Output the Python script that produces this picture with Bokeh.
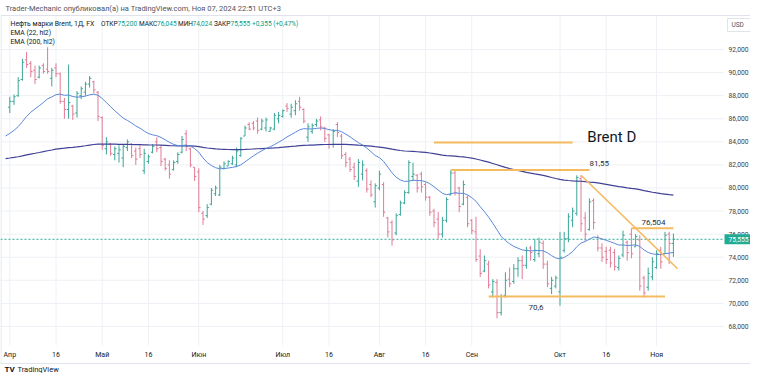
import pandas as pd
from bokeh.plotting import figure
from bokeh.models import Range1d, Label, ColumnDataSource
from bokeh.core.properties import value
from bokeh.embed import file_html
from bokeh.resources import INLINE

# ---------------- data ----------------
dates = pd.bdate_range("2024-04-01", "2024-11-07")

opens = [87.0, 87.5, 88.0, 89.4, 91.1, 90.8, 90.2, 89.6, 90.6, 90.3,
         89.5, 90.4, 89.9, 87.5, 86.8, 87.1, 86.5, 88.0, 88.3, 89.0,
         89.2, 88.3, 86.1, 83.4, 83.8, 82.9, 83.0, 82.6, 83.5, 83.8,
         83.2, 83.4, 81.5, 82.3, 83.1, 84.0, 83.5, 82.5, 82.0, 81.6,
         82.3, 83.1, 84.7, 83.4, 81.8, 81.4, 77.8, 77.6, 78.6, 79.5,
         79.4, 81.7, 81.9, 82.1, 82.0, 82.8, 84.5, 85.5, 85.6, 85.8,
         85.1, 85.2, 84.9, 85.1, 86.0, 86.2, 87.1, 86.4, 86.7, 87.5,
         86.8, 84.4, 84.9, 85.5, 85.9, 85.2, 84.6, 83.8, 85.5, 84.5,
         82.9, 82.5, 81.8, 80.6, 81.2, 81.5, 80.3, 78.8, 80.0, 80.3,
         77.4, 77.0, 76.1, 77.7, 78.7, 79.6, 81.0, 81.1, 81.2, 80.3,
         79.2, 78.0, 77.3, 76.0, 77.2, 79.4, 81.3, 80.0, 78.6, 79.2,
         77.2, 76.2, 74.1, 72.8, 73.4, 71.0, 71.8, 69.2, 70.7, 72.1,
         71.9, 73.0, 73.7, 73.3, 74.8, 73.8, 74.3, 75.2, 73.4, 71.3,
         71.5, 71.0, 74.6, 75.6, 77.2, 77.8, 80.8, 77.4, 76.4, 78.9,
         75.7, 74.8, 74.5, 74.6, 74.4, 73.1, 74.2, 75.3, 76.0, 74.9,
         75.5, 72.2, 71.4, 72.3, 73.1, 74.6, 74.3, 76.0, 75.2]
highs = [87.9, 88.1, 89.6, 91.2, 91.8, 91.0, 90.6, 90.6, 90.8, 92.2,
         90.4, 90.8, 90.0, 87.8, 90.7, 87.2, 88.4, 88.8, 89.2, 89.7,
         89.3, 88.4, 86.2, 84.4, 83.9, 83.6, 83.7, 83.8, 84.2, 83.9,
         83.5, 83.7, 83.4, 82.9, 83.8, 84.4, 83.7, 82.6, 82.4, 82.4,
         83.1, 84.5, 85.0, 83.5, 81.8, 81.7, 78.0, 78.6, 80.0, 80.2,
         82.0, 82.3, 82.4, 82.8, 83.5, 84.4, 85.4, 85.7, 85.8, 86.1,
         86.0, 86.1, 85.3, 86.5, 86.6, 86.8, 87.35, 87.3, 87.6, 87.9,
         86.9, 85.6, 85.6, 86.0, 86.2, 85.3, 84.7, 85.1, 85.7, 84.7,
         83.1, 82.7, 82.2, 82.5, 82.4, 81.7, 80.65, 80.4, 81.5, 80.5,
         77.5, 77.2, 77.8, 78.9, 79.8, 82.4, 82.2, 81.2, 81.4, 80.5,
         79.3, 78.2, 77.9, 77.5, 79.2, 81.55, 81.5, 80.1, 80.65, 79.35,
         77.3, 77.5, 74.7, 74.15, 73.7, 72.1, 72.1, 70.8, 72.7, 73.1,
         73.4, 74.0, 74.15, 74.9, 75.0, 75.6, 75.7, 75.45, 73.7, 72.3,
         72.4, 76.2, 76.2, 77.8, 78.3, 81.1, 81.1, 77.9, 79.1, 79.1,
         75.9, 75.2, 74.9, 74.9, 74.7, 74.15, 76.3, 75.45, 76.5, 76.0,
         75.9, 72.4, 73.1, 74.0, 74.6, 74.9, 76.2, 76.2, 76.045]
lows = [86.5, 87.2, 87.9, 89.3, 90.4, 89.6, 89.0, 89.5, 89.9, 89.9,
        88.8, 89.6, 87.3, 86.0, 86.0, 85.9, 86.1, 87.7, 88.0, 88.7,
        88.2, 85.8, 83.3, 82.9, 82.8, 82.4, 82.2, 81.8, 83.2, 82.6,
        82.0, 82.6, 81.2, 82.1, 83.0, 83.1, 81.9, 81.5, 80.8, 81.5,
        82.1, 83.0, 83.2, 81.8, 80.6, 77.9, 76.8, 77.4, 78.5, 79.3,
        79.3, 81.6, 81.9, 82.0, 81.8, 82.7, 84.5, 85.0, 85.0, 84.7,
        85.0, 84.9, 84.9, 85.0, 85.6, 86.1, 86.6, 86.1, 86.3, 86.7,
        85.6, 84.0, 84.7, 85.3, 85.0, 84.0, 83.4, 83.5, 84.4, 82.5,
        81.8, 81.4, 80.7, 80.1, 80.65, 79.6, 79.2, 78.3, 79.8, 77.5,
        75.7, 75.0, 75.9, 77.6, 78.6, 79.5, 80.6, 79.6, 79.6, 78.9,
        77.6, 76.6, 75.6, 75.7, 77.0, 79.35, 79.35, 77.9, 78.5, 76.6,
        76.0, 73.6, 72.3, 72.7, 71.3, 70.5, 68.7, 68.95, 70.5, 71.4,
        71.7, 72.3, 72.1, 73.0, 73.7, 73.6, 74.0, 73.0, 71.4, 70.8,
        71.3, 69.8, 74.4, 75.3, 76.6, 77.6, 76.2, 75.4, 76.3, 76.4,
        74.5, 73.6, 73.4, 73.1, 72.85, 72.85, 74.0, 73.7, 73.9, 74.9,
        71.1, 70.5, 71.1, 72.0, 73.0, 73.0, 74.3, 73.4, 74.024]
closes = [87.5, 87.9, 89.3, 90.9, 90.7, 90.1, 89.4, 90.4, 90.1, 90.1,
          90.2, 89.9, 87.5, 86.8, 87.4, 86.4, 88.2, 88.6, 89.0, 89.5,
          88.5, 86.2, 83.7, 84.0, 83.0, 83.4, 83.3, 83.6, 84.0, 82.8,
          82.5, 82.9, 83.0, 82.7, 83.6, 83.4, 82.3, 81.7, 81.2, 82.2,
          82.9, 84.2, 83.6, 82.0, 81.0, 78.3, 77.3, 78.3, 79.8, 80.0,
          81.8, 82.1, 82.3, 82.6, 83.2, 84.3, 85.2, 85.1, 85.2, 85.0,
          85.8, 85.9, 85.2, 86.3, 86.3, 86.7, 86.9, 87.0, 87.3, 87.0,
          85.8, 85.3, 85.4, 85.8, 85.3, 84.3, 83.8, 84.9, 84.8, 82.8,
          82.2, 81.6, 81.0, 82.2, 82.0, 79.9, 79.4, 80.2, 81.2, 77.9,
          76.2, 75.5, 77.6, 78.7, 79.6, 82.2, 81.2, 80.0, 80.1, 79.2,
          77.9, 77.0, 76.0, 77.2, 79.0, 81.3, 79.6, 78.4, 80.3, 76.9,
          76.3, 73.8, 72.6, 73.7, 71.6, 71.9, 69.2, 70.6, 72.0, 71.7,
          73.0, 73.7, 73.3, 74.6, 74.4, 74.6, 75.3, 73.4, 71.7, 72.0,
          72.2, 74.0, 75.6, 77.5, 78.0, 80.9, 76.9, 76.0, 78.8, 77.0,
          74.8, 74.0, 73.8, 73.5, 73.2, 73.9, 75.9, 74.4, 74.3, 75.8,
          71.5, 70.9, 72.6, 73.6, 74.3, 73.6, 75.9, 75.2, 75.555]

ema22_seed = 84.5     # EMA(22) value on the day before the first visible bar
ema200_seed = 82.55   # EMA(200) value on the day before the first visible bar

tick_dates = ["2024-04-01", "2024-04-16", "2024-05-01", "2024-05-16", "2024-06-03",
              "2024-07-01", "2024-07-16", "2024-08-01", "2024-08-16", "2024-09-02",
              "2024-10-01", "2024-10-16", "2024-11-01"]
tick_labels = ["Апр", "16", "Май", "16", "Июн", "Июл", "16", "Авг", "16", "Сен",
               "Окт", "16", "Ноя"]
price_ticks = [68, 70, 72, 74, 76, 78, 80, 82, 84, 86, 88, 90, 92]
price_tick_labels = ["68,000", "70,000", "72,000", "74,000", "76,000", "78,000", "80,000",
                     "82,000", "84,000", "86,000", "88,000", "90,000", "92,000"]

# drawings on the chart
hline_start = ["2024-08-20", "2024-08-26", "2024-10-24", "2024-09-06"]
hline_end = ["2024-10-04", "2024-10-10", "2024-11-07", "2024-11-05"]
hline_price = [83.95, 81.55, 76.504, 70.6]
trend_start_date, trend_start_price = "2024-10-08", 81.1
trend_end_price = 73.0
last_close = 75.555

# ---------------- geometry helpers (pixel <-> data) ----------------
W, H = 750, 373
BAR0, STEP = 9.3, 4.2          # x of the first bar, px per bar
P92, PPU = 49.0, 11.54         # y of price 92, px per price unit
PL, PR, PT, PB = 0, 723, 15, 345   # plotting pane


def wx(px):
    return (px - BAR0) / STEP


def wy(py):
    return 92 - (py - P92) / PPU


idx_of = {d.strftime("%Y-%m-%d"): i for i, d in enumerate(dates)}
n = len(dates)
xs = list(range(n))
hl2 = [(h + l) / 2 for h, l in zip(highs, lows)]


def ema(vals, span, seed):
    a = 2.0 / (span + 1)
    e = seed
    out = [seed]
    for v in vals:
        e = e + a * (v - e)
        out.append(e)
    return out


ema_x = [-1] + xs
ema22 = ema(hl2, 22, ema22_seed)
ema200 = ema(hl2, 200, ema200_seed)

p = figure(width=W, height=H,
           x_range=Range1d(wx(0), wx(W)), y_range=Range1d(wy(H), wy(0)),
           x_axis_location=None, y_axis_location=None,
           toolbar_location=None, output_backend="svg", min_border=0,
           background_fill_color="white", border_fill_color="white",
           outline_line_color=None)
p.xgrid.visible = False
p.ygrid.visible = False

FONT = "Roboto"
DARK = "#131722"
GRID = "#eef0f5"
BORDER = "#e0e3eb"

# grid
tick_idx = [idx_of[d] for d in tick_dates]
p.segment(x0=tick_idx, x1=tick_idx, y0=[wy(PB)] * len(tick_idx), y1=[wy(PT)] * len(tick_idx),
          color=GRID, line_width=1)
p.segment(x0=[wx(PL)] * len(price_ticks), x1=[wx(PR)] * len(price_ticks),
          y0=price_ticks, y1=price_ticks, color=GRID, line_width=1)

# pane border
p.segment(x0=[wx(0), wx(0), wx(0.5)], x1=[wx(W), wx(W), wx(0.5)],
          y0=[wy(PT), wy(363), wy(PT)], y1=[wy(PT), wy(363), wy(363)],
          color=BORDER, line_width=1)

# axis tick labels
p.text(x=tick_idx, y=[wy(354)] * len(tick_idx), text=tick_labels,
       text_font=value(FONT), text_font_size="7px", text_color=DARK,
       text_align="center", text_baseline="middle")
p.text(x=[wx(728)] * len(price_ticks), y=price_ticks, text=price_tick_labels,
       text_font=value(FONT), text_font_size="6.7px", text_color="#3b3e48",
       text_align="left", text_baseline="middle")

# last price dotted line
p.segment(x0=[wx(PL)], x1=[wx(PR)], y0=[last_close], y1=[last_close],
          color="#22ab94", line_dash="2 2", line_width=1)

# OHLC bars
UP, DOWN = "#3ba597", "#e07a94"
colors = [UP if c >= o else DOWN for o, c in zip(opens, closes)]
src = ColumnDataSource(dict(x=xs, o=opens, h=highs, l=lows, c=closes, col=colors,
                            xl=[x - 0.42 for x in xs], xr=[x + 0.42 for x in xs]))
p.segment(x0="x", y0="l", x1="x", y1="h", color="col", line_width=1, source=src)
p.segment(x0="xl", y0="o", x1="x", y1="o", color="col", line_width=1, source=src)
p.segment(x0="x", y0="c", x1="xr", y1="c", color="col", line_width=1, source=src)

# EMAs
p.line(ema_x, ema200, color="#3f4196", line_width=1.2)
p.line(ema_x, ema22, color="#5b89d9", line_width=1.0)

# drawings
LINE = "#f5bb60"
hsrc = ColumnDataSource(dict(x0=[idx_of[d] for d in hline_start],
                             x1=[idx_of[d] for d in hline_end], y=hline_price))
p.segment(x0="x0", y0="y", x1="x1", y1="y", color=LINE, line_width=2, source=hsrc)
t0 = idx_of[trend_start_date]
p.line([t0, n], [trend_start_price, trend_end_price], color=LINE, line_width=1.6)


def lab(x, y, text, size, color=DARK, **kw):
    lb = Label(x=x, y=y, text=text, text_font=FONT, text_font_size=size,
               text_color=color, text_baseline="middle", text_align="left", **kw)
    p.add_layout(lb)
    return lb


lab(idx_of["2024-10-09"] + 0.5, 84.45, "Brent D", "15px")
lab(idx_of["2024-10-10"], 82.1, "81,55", "8px", "#2a2e39")
lab(idx_of["2024-10-28"] + 0.4, 77.0, "76,504", "8px", "#2a2e39")
lab(idx_of["2024-09-20"] - 0.5, 69.65, "70,6", "8px", "#2a2e39")

# header and legend
lab(wx(5), wy(7.5), "Trader-Mechanic опубликовал(а) на TradingView.com, Ноя 07, 2024 22:51 UTC+3",
    "7.5px", "#50535e")
TEAL = "#089981"
lab(wx(10), wy(23), "Нефть марки Brent, 1Д, FX", "6.9px", DARK)
legend = [(100.5, "ОТКР", DARK), (117, "75,200", TEAL),
          (138.5, "МАКС", DARK), (156.5, "76,045", TEAL), (177.5, "МИН", DARK), (192, "74,024", TEAL),
          (213.5, "ЗАКР", DARK), (230, "75,555", TEAL), (251.5, "+0,355 (+0,47%)", TEAL)]
for px, t, c in legend:
    lab(wx(px), wy(23), t, "6.5px", c)
lab(wx(10), wy(32.5), "EMA (22, hl2)", "6.8px", DARK)
lab(wx(10), wy(41.5), "EMA (200, hl2)", "6.8px", DARK)

# price scale extras: last price tag and currency box
half = 5 / PPU
p.quad(left=[wx(724)], right=[wx(W)], top=[last_close + half], bottom=[last_close - half],
       fill_color="#22ab94", line_color=None)
lab(wx(728), last_close, "75,555", "6.7px", "white")
p.quad(left=[wx(727)], right=[wx(751.5)], top=[wy(18)], bottom=[wy(31)],
       fill_color="white", line_color=BORDER)
lab(wx(731), wy(24.5), "USD", "6.5px", "#50535e")

# footer logo
lab(wx(4), wy(368.5), "TV", "8px", DARK, text_font_style="bold")
lab(wx(17), wy(368.5), "TradingView", "7.5px", DARK)

open("out.html", "w").write(file_html(p, INLINE))
